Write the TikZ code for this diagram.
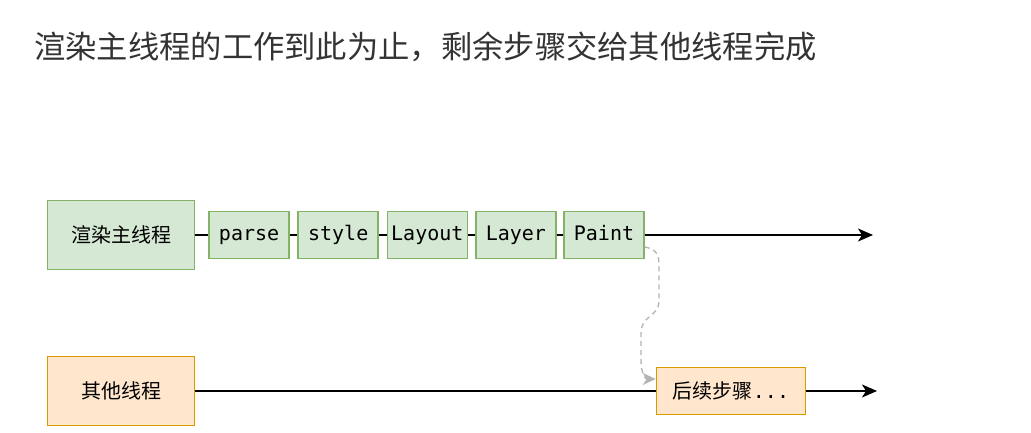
\documentclass[tikz,border=0pt]{standalone}
\usepackage{fontspec}
\setmainfont{Noto Sans CJK SC}
\setmonofont{DejaVu Sans Mono}
\usetikzlibrary{positioning,arrows.meta}

\definecolor{mainfill}{HTML}{D5E8D4}
\definecolor{maindraw}{HTML}{82B366}
\definecolor{otherfill}{HTML}{FFE6CC}
\definecolor{otherdraw}{HTML}{D79B00}
\definecolor{titlegray}{HTML}{333333}
\definecolor{dashgray}{HTML}{B3B3B3}

\newcommand*{\rowmain}{235}
\newcommand*{\rowother}{391}

\begin{document}
\begin{tikzpicture}
[
	x=1pt,y=-1pt,
	thread/.style={draw,line width=1.6pt,minimum width=147pt,minimum height=69pt,inner sep=0pt,font=\fontsize{20}{24}\selectfont},
	stepbox/.style={draw=maindraw,fill=mainfill,line width=1.6pt,minimum width=80pt,minimum height=47pt,inner sep=0pt,text height=15pt,text depth=4pt,font=\ttfamily\fontsize{20}{24}\selectfont},
	link/.style={line width=1.3pt},
	flow/.style={link,-{Stealth[length=15pt,width=13pt,inset=4pt]}},
	handoff/.style={dashgray,line width=1.3pt,dash pattern=on 5pt off 4pt,-{Stealth[length=13pt,width=12pt,inset=4pt]}}
]

	% frame
	\useasboundingbox (0,0) rectangle (1031,433);

	% title
	\node[anchor=west,inner sep=0pt,text=titlegray,font=\fontsize{31.3}{38}\selectfont] (title) at (34,47)
		{渲染主线程的工作到此为止，剩余步骤交给其他线程完成};

	% main thread
	\node[thread,draw=maindraw,fill=mainfill] (main) at (121,\rowmain) {渲染主线程};
	\node[stepbox,right=13pt of main] (parse) {parse};
	\node[stepbox,right=7.5pt of parse] (style) {style};
	\node[stepbox,right=7.5pt of style] (layout) {Layout};
	\node[stepbox,right=7pt of layout] (layer) {Layer};
	\node[stepbox,right=6.5pt of layer] (paint) {Paint};
	\coordinate (mainend) at (873,\rowmain);

	\draw[link] (main) -- (parse);
	\draw[link] (parse) -- (style);
	\draw[link] (style) -- (layout);
	\draw[link] (layout) -- (layer);
	\draw[link] (layer) -- (paint);
	\draw[flow] (paint) -- (mainend);

	% other threads
	\node[thread,draw=otherdraw,fill=otherfill] (other) at (121,\rowother) {其他线程};
	\node[thread,draw=otherdraw,fill=otherfill,minimum width=149pt,minimum height=47pt] (later) at (731,\rowother)
		{后续步骤\texttt{...}};
	\coordinate (otherend) at (877,\rowother);

	\draw[link] (other) -- (later);
	\draw[flow] (later) -- (otherend);

	% hand over
	\draw[handoff] ([yshift=-12pt]paint.east) .. controls (660,250) and (659,258) .. (659,272)
		-- (659,300) .. controls (659,318) and (641,314) .. (641,334)
		-- (641,360) .. controls (641,373) and (645,379) .. ([yshift=12pt]later.west);

\end{tikzpicture}
\end{document}
